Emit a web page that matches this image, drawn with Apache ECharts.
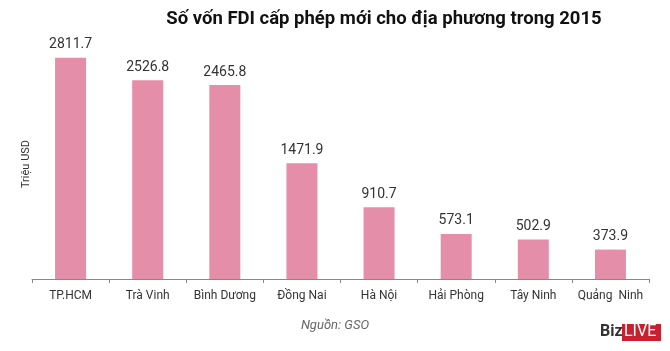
<!DOCTYPE html>
<html><head><meta charset="utf-8">
<script src="https://cdn.jsdelivr.net/npm/echarts@6/dist/echarts.min.js"></script>
<style>html,body{margin:0;padding:0;background:#fff}#c{width:670px;height:351px}</style>
</head><body><div id="c"></div>
<script>
const categories = ['TP.HCM','Trà Vinh','Bình Dương','Đồng Nai','Hà Nội','Hải Phòng','Tây Ninh','Quảng  Ninh'];
const values = [2811.7, 2526.8, 2465.8, 1471.9, 910.7, 573.1, 502.9, 373.9];
const titleText = 'Số vốn FDI cấp phép mới cho địa phương trong 2015';
const yName = 'Triệu USD';
const sourceText = 'Nguồn: GSO';

const chart = echarts.init(document.getElementById('c'));
chart.setOption({
  backgroundColor: '#fff',
  animation: false,
  title: {
    text: titleText, left: 379, top: 5, textAlign: 'center',
    textStyle: {fontFamily: 'Roboto', fontWeight: 'bold', fontSize: 18.5, color: '#111'}
  },
  grid: {left: 32, right: 21, top: 43, bottom: 72, containLabel: false, outerBoundsMode: 'none'},
  xAxis: {
    type: 'category', data: categories,
    axisLine: {lineStyle: {color: '#888'}},
    axisTick: {show: true, length: 4, lineStyle: {color: '#888'}},
    axisLabel: {color: '#333', fontFamily: 'Roboto', fontSize: 12, margin: 11, interval: 0}
  },
  yAxis: {
    type: 'value', min: 0, max: 3000,
    name: yName, nameLocation: 'middle', nameRotate: 90, nameGap: 0,
    nameTextStyle: {color: '#333', fontFamily: 'Roboto', fontSize: 11, padding: [0,6,0,0]},
    axisLine: {show: false}, axisTick: {show: false}, axisLabel: {show: false},
    splitLine: {show: false}
  },
  series: [{
    type: 'bar', data: values, barWidth: 31,
    itemStyle: {color: '#e48eaa'},
    label: {show: true, position: 'top', distance: 6, color: '#333', fontFamily: 'Roboto', fontSize: 14}
  }],
  graphic: [
    {type: 'text', left: 'center', top: 319, style: {text: sourceText, fontFamily: 'Roboto', fontStyle: 'italic', fontSize: 13, fill: '#666'}},
    {type: 'text', left: 600, top: 324, style: {text: 'Biz', fontFamily: 'Roboto', fontWeight: 'bold', fontSize: 16, fill: '#333'}},
    {type: 'rect', left: 622, top: 324, shape: {width: 39, height: 17}, style: {fill: '#c8202f'}},
    {type: 'text', left: 624, top: 324, style: {text: 'LIVE', fontFamily: 'Roboto', fontSize: 16, fill: '#fff'}}
  ]
});
</script></body></html>
